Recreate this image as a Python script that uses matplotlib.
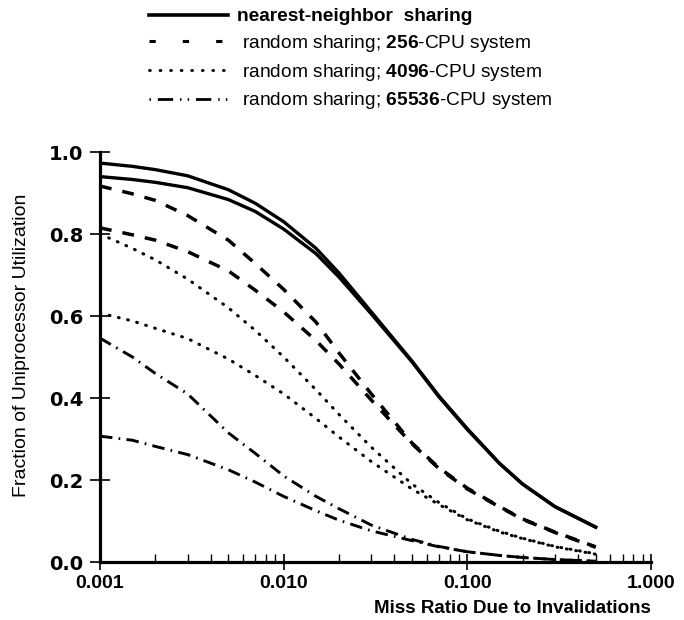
import matplotlib
matplotlib.use('Agg')
import matplotlib.pyplot as plt
from matplotlib.lines import Line2D
from matplotlib.ticker import FixedLocator, LogLocator, NullFormatter, FuncFormatter

plt.rcParams['font.family'] = ['Liberation Sans', 'DejaVu Sans']
plt.rcParams['mathtext.fontset'] = 'custom'
plt.rcParams['mathtext.rm'] = 'Liberation Sans'
plt.rcParams['mathtext.bf'] = 'Liberation Sans:bold'
plt.rcParams['mathtext.it'] = 'Liberation Sans:italic'
plt.rcParams['lines.scale_dashes'] = False

# ---- data ----
miss_ratio = [0.001, 0.0015, 0.002, 0.003, 0.005, 0.007, 0.01, 0.015, 0.02,
              0.03, 0.05, 0.07, 0.1, 0.15, 0.2, 0.3, 0.5]

nn_upper = [0.973, 0.965, 0.957, 0.942, 0.908, 0.875, 0.830, 0.765, 0.705,
            0.610, 0.490, 0.405, 0.325, 0.240, 0.190, 0.135, 0.085]
nn_lower = [0.940, 0.933, 0.926, 0.913, 0.884, 0.855, 0.812, 0.752, 0.695,
            0.605, 0.488, 0.403, 0.323, 0.240, 0.190, 0.135, 0.085]

r256_upper = [0.917, 0.898, 0.882, 0.845, 0.785, 0.728, 0.665, 0.585, 0.510,
              0.410, 0.290, 0.230, 0.180, 0.135, 0.105, 0.073, 0.037]
r256_lower = [0.815, 0.798, 0.785, 0.757, 0.710, 0.663, 0.610, 0.540, 0.483,
              0.395, 0.288, 0.228, 0.178, 0.134, 0.104, 0.072, 0.036]

r4096_upper = [0.800, 0.765, 0.737, 0.690, 0.620, 0.565, 0.500, 0.420, 0.360,
               0.280, 0.190, 0.145, 0.105, 0.075, 0.058, 0.038, 0.020]
r4096_lower = [0.607, 0.588, 0.570, 0.545, 0.495, 0.455, 0.410, 0.350, 0.305,
               0.245, 0.178, 0.140, 0.103, 0.073, 0.057, 0.037, 0.019]

r65536_upper = [0.546, 0.500, 0.460, 0.410, 0.315, 0.265, 0.210, 0.160, 0.130,
                0.090, 0.055, 0.038, 0.025, 0.016, 0.011, 0.006, 0.002]
r65536_lower = [0.307, 0.297, 0.282, 0.262, 0.225, 0.195, 0.160, 0.125, 0.102,
                0.076, 0.052, 0.037, 0.025, 0.016, 0.011, 0.006, 0.002]

legend_labels = ['nearest-neighbor  sharing',
                 r' random sharing; $\mathbf{256}$-CPU system',
                 r' random sharing; $\mathbf{4096}$-CPU system',
                 r' random sharing; $\mathbf{65536}$-CPU system']

x_ticks = [0.001, 0.01, 0.1, 1.0]
y_ticks = [0.0, 0.2, 0.4, 0.6, 0.8, 1.0]

# ---- figure ----
fig = plt.figure(figsize=(6.84, 6.2), dpi=100)
ax = fig.add_axes([100/684, 1 - 562/620, 551/684, 410/620])

plot_styles = [
    dict(linestyle='-', linewidth=2.4),
    dict(linestyle=(0, (8.5, 8)), linewidth=2.5),
    dict(linestyle=(0, (0.6, 6.2)), linewidth=2.2, dash_capstyle='round'),
    dict(linestyle=(0, (9, 4.5, 1.2, 4.5)), linewidth=2.1),
]
legend_styles = [
    dict(linestyle='-', linewidth=2.6),
    dict(linestyle=(0, (4.5, 19.5)), linewidth=2.2),
    dict(linestyle=(0, (0.6, 7.0)), linewidth=2.1, dash_capstyle='round'),
    dict(linestyle=(0, (1, 5, 11, 5, 1, 4.5)), linewidth=2.0),
]
groups = [(nn_upper, nn_lower), (r256_upper, r256_lower),
          (r4096_upper, r4096_lower), (r65536_upper, r65536_lower)]

for (up, lo), st in zip(groups, plot_styles):
    ax.plot(miss_ratio, up, color='black', **st)
    ax.plot(miss_ratio, lo, color='black', **st)

handles = [Line2D([], [], color='black', **st) for st in legend_styles]

ax.set_xscale('log')
ax.set_xlim(0.001, 1.0)
ax.set_ylim(0.0, 1.0)

ax.xaxis.set_major_locator(FixedLocator(x_ticks))
ax.xaxis.set_major_formatter(FuncFormatter(lambda v, p: f'{v:.3f}'))
ax.xaxis.set_minor_locator(LogLocator(base=10, subs=range(2, 10)))
ax.xaxis.set_minor_formatter(NullFormatter())
ax.yaxis.set_major_locator(FixedLocator(y_ticks))
ax.yaxis.set_major_formatter(FuncFormatter(lambda v, p: f'{v:.1f}'))

for s in ['top', 'right']:
    ax.spines[s].set_visible(False)
for s in ['left', 'bottom']:
    ax.spines[s].set_linewidth(2.3)

ax.tick_params(axis='x', which='major', direction='inout', length=12, width=1.2,
               pad=3, labelsize=14)
ax.tick_params(axis='x', which='minor', direction='in', length=6, width=1.0)
ax.tick_params(axis='y', which='major', direction='inout', length=14, width=1.2,
               pad=5, labelsize=14)
for lbl in ax.get_xticklabels():
    lbl.set_fontweight('bold')
for lbl in ax.get_yticklabels():
    lbl.set_fontweight('bold')
    lbl.set_family('DejaVu Sans')

ax.set_ylabel('Fraction of Uniprocessor Utilization', fontsize=14)
ax.yaxis.set_label_coords((30 - 100) / 551, (562 - 345) / 410)
ax.set_xlabel('Miss Ratio Due to Invalidations', fontsize=13.5,
              fontweight='bold', loc='right', labelpad=6)

leg = ax.legend(handles=handles, labels=legend_labels, loc='upper left',
                bbox_to_anchor=(149/684, 1 - 8/620), bbox_transform=fig.transFigure,
                frameon=False, fontsize=13.8, handlelength=4.1, handletextpad=0.5,
                labelspacing=0.4, borderaxespad=0, borderpad=0)
leg.get_texts()[0].set_fontweight('bold')

fig.savefig('out.png', dpi=100)
